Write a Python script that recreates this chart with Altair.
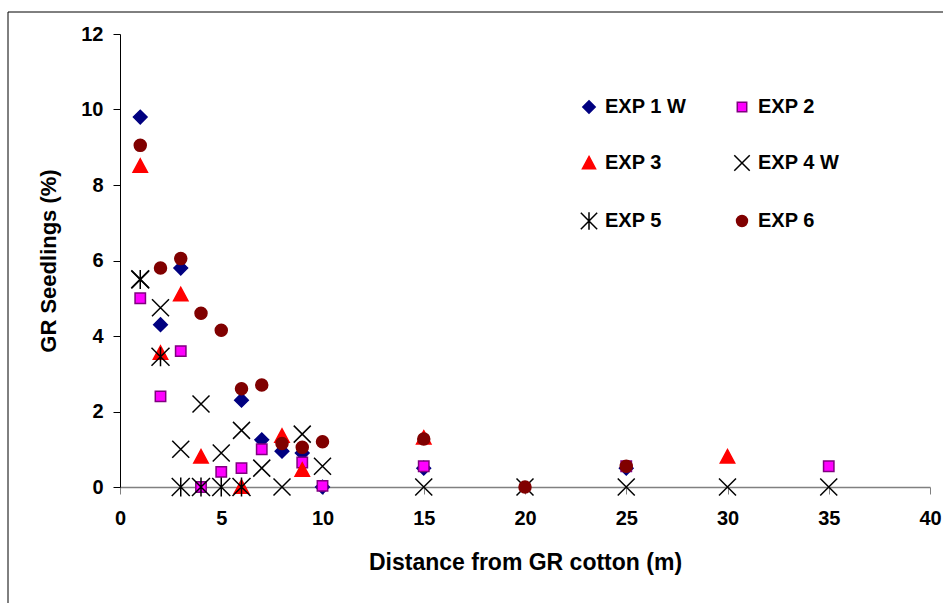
import altair as alt
import pandas as pd

series_names = ["EXP 1 W", "EXP 2", "EXP 3", "EXP 4 W", "EXP 5", "EXP 6"]
# legend fills columns first: column 1 = EXP 1 W, EXP 3, EXP 5
legend_order = ["EXP 1 W", "EXP 3", "EXP 5", "EXP 2", "EXP 4 W", "EXP 6"]

exp1_x = [1, 2, 3, 6, 7, 8, 9, 10, 15, 25]
exp1_y = [9.8, 4.3, 5.8, 2.3, 1.25, 0.95, 0.9, 0.0, 0.5, 0.5]

exp2_x = [1, 2, 3, 4, 5, 6, 7, 9, 10, 15, 25, 35]
exp2_y = [5.0, 2.4, 3.6, 0.0, 0.4, 0.5, 1.0, 0.65, 0.03, 0.55, 0.55, 0.55]

exp3_x = [1, 2, 3, 4, 6, 8, 9, 15, 30]
exp3_y = [8.5, 3.55, 5.1, 0.8, 0.0, 1.35, 0.45, 1.3, 0.8]

exp4_x = [1, 2, 3, 4, 5, 6, 7, 8, 9, 10, 15, 20, 25, 30, 35]
exp4_y = [5.5, 4.75, 1.0, 2.2, 0.9, 1.5, 0.5, 0.0, 1.4, 0.55, 0.0, 0.0, 0.0, 0.0, 0.0]

exp5_x = [1, 2, 3, 4, 5, 6]
exp5_y = [5.5, 3.45, 0.0, 0.0, 0.0, 0.0]

exp6_x = [1, 2, 3, 4, 5, 6, 7, 8, 9, 10, 15, 20, 25]
exp6_y = [9.05, 5.8, 6.05, 4.6, 4.15, 2.6, 2.7, 1.15, 1.05, 1.2, 1.27, 0.0, 0.55]

x_ticks = [0, 5, 10, 15, 20, 25, 30, 35, 40]
y_ticks = [0, 2, 4, 6, 8, 10, 12]

all_x = [exp1_x, exp2_x, exp3_x, exp4_x, exp5_x, exp6_x]
all_y = [exp1_y, exp2_y, exp3_y, exp4_y, exp5_y, exp6_y]
rows = []
for name, xs, ys in zip(series_names, all_x, all_y):
    for xv, yv in zip(xs, ys):
        rows.append({"series": name, "dist": xv, "pct": yv})
df = pd.DataFrame(rows)

fill_of = {"EXP 1 W": "#000080", "EXP 2": "#FF00FF", "EXP 3": "#FF0000",
           "EXP 4 W": "#000000", "EXP 5": "#000000", "EXP 6": "#800000"}
stroke_of = {"EXP 1 W": "#000080", "EXP 2": "#800080", "EXP 3": "#FF0000",
             "EXP 4 W": "#000000", "EXP 5": "#000000", "EXP 6": "#800000"}
shape_of = {
    "EXP 1 W": "M0,-0.68L0.68,0L0,0.68L-0.68,0Z",
    "EXP 2": "M-0.52,-0.52L0.52,-0.52L0.52,0.52L-0.52,0.52Z",
    "EXP 3": "M0,-0.72L0.72,0.62L-0.72,0.62Z",
    "EXP 4 W": "M-0.85,-0.85L0.85,0.85M-0.85,0.85L0.85,-0.85",
    "EXP 5": "M-0.9,-0.9L0.9,0.9M-0.9,0.9L0.9,-0.9M0,-0.95L0,0.95",
    "EXP 6": "M0.6,0A0.6,0.6 0 1,1 -0.6,0A0.6,0.6 0 1,1 0.6,0Z",
}
fills = [fill_of[s] for s in legend_order]
strokes = [stroke_of[s] for s in legend_order]
shapes = [shape_of[s] for s in legend_order]

FONT = "Liberation Sans"

leg = alt.Legend(
    title=None,
    orient="none",
    legendX=459,
    legendY=63,
    columns=2,
    columnPadding=44,
    rowPadding=35,
    labelOffset=6,
    symbolSize=330,
    symbolStrokeWidth=1.5,
    labelFont=FONT,
    labelFontSize=20,
    labelFontWeight="bold",
    labelColor="black",
    padding=0,
    labelLimit=200,
)

points = alt.Chart(df).mark_point(filled=True, opacity=1, size=400, strokeWidth=1.5).encode(
    x=alt.X(
        "dist:Q",
        scale=alt.Scale(domain=[0, 40], nice=False),
        axis=alt.Axis(
            values=x_ticks,
            title="Distance from GR cotton (m)",
            domainColor="#808080",
            domainWidth=1.5,
            tickColor="#808080",
            tickSize=7,
            labelPadding=14,
            labelFlush=False,
            titlePadding=23,
            titleFontSize=23,
        ),
    ),
    y=alt.Y(
        "pct:Q",
        scale=alt.Scale(domain=[0, 12], nice=False),
        axis=alt.Axis(
            values=y_ticks,
            title="GR Seedlings (%)",
            domainColor="black",
            domainWidth=1,
            tickColor="black",
            tickSize=7,
            labelPadding=10,
            labelFlush=False,
            titlePadding=20,
        ),
    ),
    fill=alt.Fill("series:N", scale=alt.Scale(domain=legend_order, range=fills), legend=leg),
    stroke=alt.Stroke("series:N", scale=alt.Scale(domain=legend_order, range=strokes), legend=leg),
    shape=alt.Shape("series:N", scale=alt.Scale(domain=legend_order, range=shapes), legend=leg),
    order=alt.Order("idx:Q"),
).transform_window(idx="row_number()")

frame_src = alt.Chart(pd.DataFrame({"k": [0]}))
frame_left = frame_src.mark_rule(color="black", strokeWidth=1).encode(
    x=alt.value(-112), y=alt.value(-22), y2=alt.value(600)
)
frame_top = frame_src.mark_rule(color="black", strokeWidth=1).encode(
    x=alt.value(-112), x2=alt.value(840), y=alt.value(-22)
)

chart = (
    alt.layer(frame_left, frame_top, points)
    .properties(
        width=810,
        height=453,
        autosize=alt.AutoSizeParams(type="none"),
        padding={"left": 120, "top": 34, "right": 13, "bottom": 116},
        background="white",
    )
    .configure_view(stroke=None)
    .configure_axis(
        grid=False,
        labelFont=FONT,
        labelFontSize=20,
        labelFontWeight="bold",
        labelColor="black",
        titleFont=FONT,
        titleFontSize=22,
        titleFontWeight="bold",
        titleColor="black",
    )
)

chart.save("out.html", embed_options={"renderer": "svg", "actions": False})
